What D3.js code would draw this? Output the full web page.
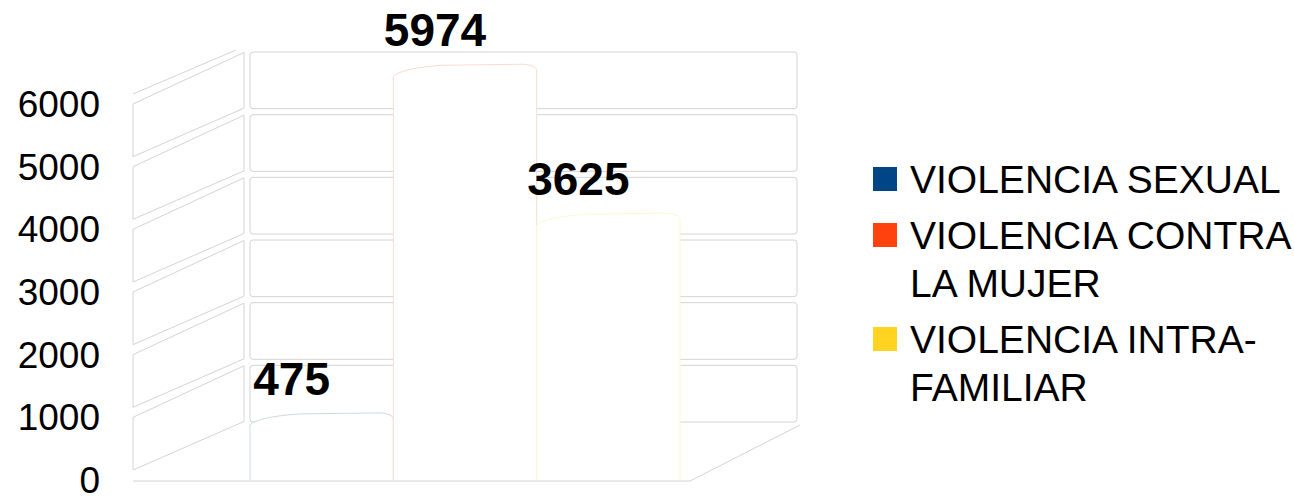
<!DOCTYPE html>
<html lang="es">
<head>
  <meta charset="UTF-8">
  <title>Violencia</title>
  <script src="https://d3js.org/d3.v7.min.js"></script>
  <style>
    body {
      margin: 0;
      background-color: #fff;
    }

    svg {
      font-family: "Liberation Sans", Arial, sans-serif;
    }

    .wall {
      fill: none;
      stroke: #d4d4d4; /* light gray wall bands */
      stroke-width: 1;
    }
  </style>
</head>
<body>
  <svg id="chart"></svg>

  <script>
    const categories = ["VIOLENCIA SEXUAL", "VIOLENCIA CONTRA LA MUJER", "VIOLENCIA INTRA-FAMILIAR"];
    const values = [475, 5974, 3625];
    const colors = ["#004586", "#ff420e", "#ffd320"];
    const legendLines = [["VIOLENCIA SEXUAL"], ["VIOLENCIA CONTRA", "LA MUJER"], ["VIOLENCIA INTRA-", "FAMILIAR"]];
    const yTicks = [0, 1000, 2000, 3000, 4000, 5000, 6000];

    const width = 1294;
    const height = 500;

    const svg = d3.select("#chart")
      .attr("width", width)
      .attr("height", height);

    // front plane, back wall and the plane where the bars stand
    const yFront = d3.scaleLinear().domain([0, 6000]).range([475, 99]);
    const yBack = d3.scaleLinear().domain([0, 6000]).range([425, 49]);
    const yBar = d3.scaleLinear().domain([0, 6000]).range([443, 62.6]);
    const yLabel = d3.scaleLinear().domain([0, 6000]).range([480, 104]);

    const x = d3.scaleBand().domain(categories).range([250, 680]).padding(0);

    const frontX = 133, backX = 244;
    const wallLeft = 250, wallRight = 797;
    const gap = 5;

    const bands = d3.pairs(yTicks);

    // left side wall
    const side = svg.append("g");
    side.selectAll("path")
      .data(bands)
      .enter().append("path")
      .attr("class", "wall")
      .attr("d", d => {
        const [t0, t1] = d;
        return "M" + frontX + "," + (yFront(t1) + gap) +
          "L" + backX + "," + (yBack(t1) + gap * 0.7) +
          "L" + backX + "," + (yBack(t0) - gap * 0.7) +
          "L" + frontX + "," + (yFront(t0) - gap) + "Z";
      });

    // extra edge above the top band
    side.append("line")
      .attr("class", "wall")
      .attr("x1", frontX).attr("y1", yFront(6000) - gap)
      .attr("x2", backX - 8).attr("y2", yBack(6000) + 1);

    // back wall bands
    svg.append("g").selectAll("rect")
      .data(bands)
      .enter().append("rect")
      .attr("class", "wall")
      .attr("x", wallLeft)
      .attr("width", wallRight - wallLeft)
      .attr("y", d => yBack(d[1]) + 3)
      .attr("height", d => yBack(d[0]) - yBack(d[1]) - 6)
      .attr("rx", 3);

    // bars: white columns with faint coloured outline
    svg.append("g").selectAll("path")
      .data(values)
      .enter().append("path")
      .attr("fill", "#fff")
      .attr("stroke", (d, i) => d3.interpolateRgb(colors[i], "#fff")(0.8))
      .attr("stroke-width", 1)
      .attr("d", (d, i) => {
        const x0 = x(categories[i]);
        const x1 = x0 + x.bandwidth();
        const top = yBar(d);
        return "M" + x0 + ",480" +
          "L" + x0 + "," + (top + 12) +
          "Q" + (x0 + 8) + "," + (top + 4) + " " + (x0 + 50) + "," + (top + 1) +
          "L" + (x1 - 14) + "," + top +
          "Q" + (x1 - 4) + "," + top + " " + x1 + "," + (top + 5) +
          "L" + x1 + ",480";
      });

    // floor edge
    svg.append("path")
      .attr("class", "wall")
      .attr("d", "M" + frontX + ",481H690L800,425");

    // value labels
    svg.append("g").selectAll("text")
      .data(values)
      .enter().append("text")
      .attr("x", (d, i) => x(categories[i]) + x.bandwidth() / 2 - 30)
      .attr("y", d => yBar(d) - 18)
      .attr("text-anchor", "middle")
      .attr("font-size", 46)
      .attr("font-weight", "bold")
      .attr("fill", "#000")
      .text(d => d);

    // axis labels
    svg.append("g").selectAll("text")
      .data(yTicks)
      .enter().append("text")
      .attr("x", 100)
      .attr("y", d => yLabel(d) + 13)
      .attr("text-anchor", "end")
      .attr("font-size", 37)
      .attr("fill", "#000")
      .text(d => d);

    // legend
    const legend = svg.append("g");
    let ly = 193;
    legendLines.forEach((lines, i) => {
      legend.append("rect")
        .attr("x", 873)
        .attr("y", ly - 26)
        .attr("width", 24)
        .attr("height", 24)
        .attr("fill", colors[i]);
      lines.forEach((s, j) => {
        legend.append("text")
          .attr("x", 910)
          .attr("y", ly + j * 48)
          .attr("font-size", 39)
          .attr("fill", "#000")
          .text(s);
      });
      ly += (lines.length - 1) * 48 + 56;
    });
  </script>
</body>
</html>
